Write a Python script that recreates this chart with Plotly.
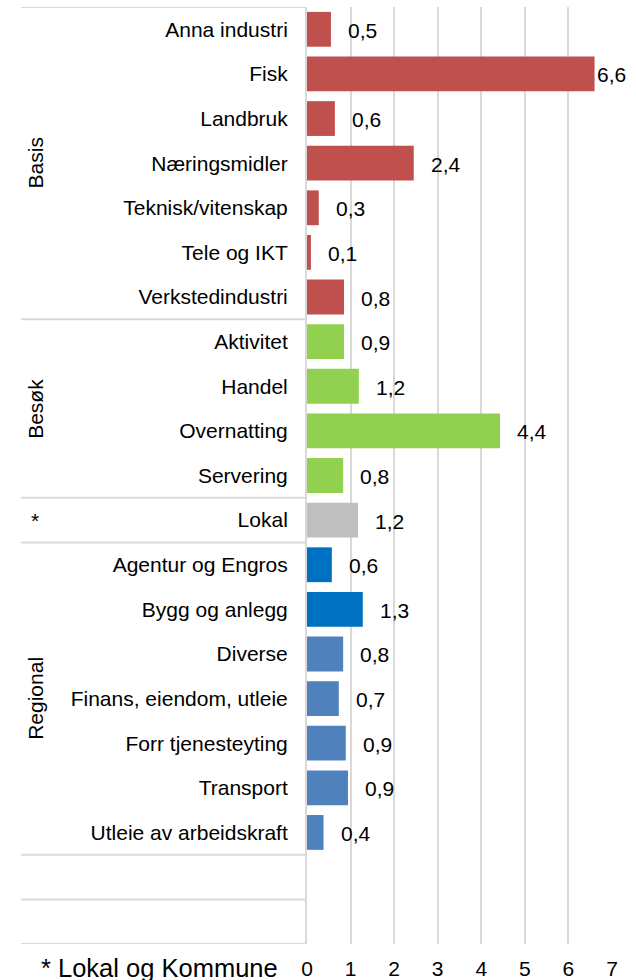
import plotly.graph_objects as go

# categories top to bottom, with their group
categories = [
    "Anna industri", "Fisk", "Landbruk", "Næringsmidler", "Teknisk/vitenskap",
    "Tele og IKT", "Verkstedindustri",
    "Aktivitet", "Handel", "Overnatting", "Servering",
    "Lokal",
    "Agentur og Engros", "Bygg og anlegg", "Diverse", "Finans, eiendom, utleie",
    "Forr tjenesteyting", "Transport", "Utleie av arbeidskraft",
]
groups = ["Basis"] * 7 + ["Besøk"] * 4 + ["*"] + ["Regional"] * 7
values = [0.55, 6.6, 0.64, 2.45, 0.27, 0.09, 0.85,
          0.85, 1.19, 4.43, 0.83,
          1.17,
          0.57, 1.28, 0.83, 0.73, 0.89, 0.94, 0.38]
value_labels = ["0,5", "6,6", "0,6", "2,4", "0,3", "0,1", "0,8",
                "0,9", "1,2", "4,4", "0,8",
                "1,2",
                "0,6", "1,3", "0,8", "0,7", "0,9", "0,9", "0,4"]
empty_rows = 2
x_ticks = [0, 1, 2, 3, 4, 5, 6, 7]
footnote = "* Lokal og Kommune"

group_colors = {"Basis": "#C0504D", "Besøk": "#92D050", "*": "#BFBFBF", "Regional": "#4F81BD"}
highlight = {"Agentur og Engros": "#0070C0", "Bygg og anlegg": "#0070C0"}
bar_colors = [highlight.get(c, group_colors[g]) for c, g in zip(categories, groups)]

FONT = "Liberation Sans, Arial, sans-serif"
LINE = "#D9D9D9"
TXT = 21
rows = list(range(len(categories)))
n_rows = len(categories) + empty_rows

fig = go.Figure(
    go.Bar(
        x=values,
        y=rows,
        orientation="h",
        width=0.78,
        marker_color=bar_colors,
        marker_line_width=0,
        hoverinfo="skip",
    )
)

# value labels right of the bars
for r, v, t in zip(rows, values, value_labels):
    fig.add_annotation(
        x=v, y=r, text=t, showarrow=False, xanchor="left", yanchor="middle",
        xshift=15 if v < 6 else 0, yshift=-1,
        font={"size": TXT, "color": "#000000", "family": FONT},
    )

# group separators and group titles in the label area
bounds = [-0.5]
spans = []
start = 0
for i in range(1, len(groups) + 1):
    if i == len(groups) or groups[i] != groups[i - 1]:
        spans.append((groups[start], start, i - 1))
        bounds.append(i - 0.5)
        start = i
for k in range(empty_rows):
    bounds.append(len(categories) + k + 0.5)

for b in bounds:
    fig.add_shape(
        type="line", xref="paper", yref="y", x0=-0.9375, x1=0, y0=b, y1=b,
        line={"color": LINE, "width": 2},
    )

for name, a, b in spans:
    fig.add_annotation(
        xref="paper", yref="y", x=-0.891, y=(a + b) / 2, text=name,
        textangle=0 if name == "*" else -90, showarrow=False,
        xanchor="center", yanchor="middle",
        font={"size": TXT, "color": "#000000", "family": FONT},
    )

fig.add_annotation(
    xref="paper", yref="paper", x=-0.4836, y=-0.0256, text=footnote,
    showarrow=False, xanchor="center", yanchor="middle",
    font={"size": 25.5, "color": "#000000", "family": FONT},
)

fig.update_xaxes(
    range=[0, 7], tickvals=x_ticks, showgrid=True, gridcolor=LINE, gridwidth=2,
    zeroline=False, showline=False, ticks="", ticklabelstandoff=10,
    tickfont={"size": TXT, "color": "#000000", "family": FONT}, fixedrange=True,
)
fig.update_yaxes(
    range=[n_rows - 0.5, -0.5], tickvals=rows, ticktext=categories,
    showgrid=False, zeroline=False, showline=True, linecolor=LINE, linewidth=2,
    ticks="", ticklabelstandoff=13,
    tickfont={"size": TXT, "color": "#000000", "family": FONT}, fixedrange=True,
)
fig.update_layout(
    width=636, height=980,
    margin={"l": 307, "r": 24, "t": 7, "b": 36, "autoexpand": False},
    plot_bgcolor="white", paper_bgcolor="white",
    showlegend=False,
    font={"family": FONT},
)

fig.write_html(
    "out.html",
    config={"displayModeBar": False},
    post_script="document.body.style.margin='0';",
)
